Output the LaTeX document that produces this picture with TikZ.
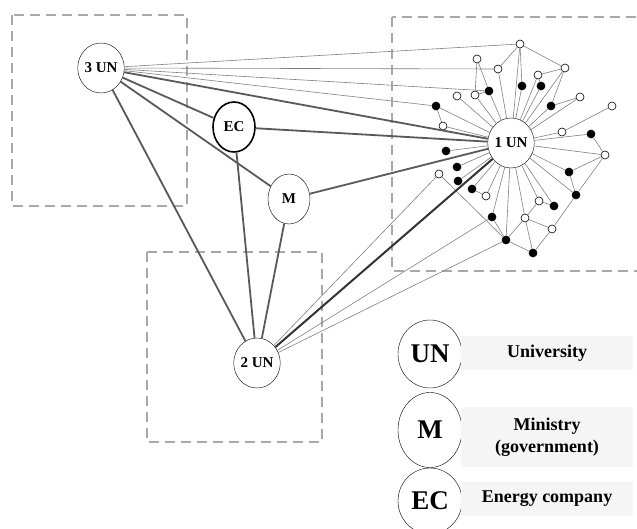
\documentclass[tikz,border=0pt]{standalone}
\usepackage[svgnames]{xcolor}
\usepackage{fontspec}
\setmainfont{Liberation Serif}
\usetikzlibrary{shapes.geometric}

\begin{document}
\begin{tikzpicture}[x=1pt, y=-1pt,
    actor/.style={draw, ellipse, fill=white, minimum width=42pt, minimum height=50pt, inner sep=0pt, font=\bfseries\fontsize{15}{15}\selectfont},
    hub/.style={draw, circle, fill=white, minimum size=8pt, inner sep=0pt, line width=0.6pt},
    dot/.style={hub, fill=black},
    tie/.style={draw=Gray, line width=0.6pt},
    link/.style={draw=black!65, line width=1.8pt},
    zone/.style={draw=DarkGray, line width=1.8pt, dash pattern=on 10pt off 6pt},
    sign/.style={draw, ellipse, minimum width=64pt, inner sep=0pt, font=\bfseries\fontsize{27}{27}\selectfont},
    key/.style={fill=WhiteSmoke, minimum width=172pt, align=center, font=\bfseries\fontsize{18}{22.5}\selectfont}]
    \clip (0,0) rectangle (637,529);
    \draw[zone] (12,15) rectangle (187,206);
    \draw[zone] (147,252) rectangle (322,442);
    \draw[zone] (392,17) rectangle (660,271);

    \node[actor] (U3) at (101,68) {3 UN};
    \node[actor, line width=1.6pt] (EC) at (234,127) {EC};
    \node[actor] (M) at (289,199) {M};
    \node[actor] (U2) at (257,363) {2 UN};
    \node[actor] (U1) at (511,143) {1 UN};

    \foreach \n/\p in {w1/{520,44}, w2/{477,59}, w3/{498,69}, w4/{538,75}, w5/{565,68}, w6/{457,96}, w7/{475,95}, w8/{580,97}, w9/{612,106}, w10/{443,126}, w11/{562,132}, w12/{605,155}, w13/{439,174}, w14/{486,196}, w15/{539,201}, w16/{525,218}, w17/{552,229}}
        \node[hub] (\n) at (\p) {};
    \foreach \n/\p in {b1/{489,91}, b2/{522,86}, b3/{541,86}, b4/{436,106}, b5/{551,106}, b6/{591,134}, b7/{446,151}, b8/{457,167}, b9/{458,181}, b10/{569,172}, b11/{472,189}, b12/{576,195}, b13/{554,206}, b14/{492,217}, b15/{506,240}, b16/{533,253}}
        \node[dot] (\n) at (\p) {};

    \foreach \n in {w1, w3, w4, w5, w6, w7, w8, w10, w11, w12, w14, w15, w16, b1, b2, b3, b4, b5, b6, b7, b8, b9, b10, b11, b12, b13, b14, b15}
        \draw[tie] (\n) -- (U1);
    \foreach \a/\b in {w1/w3, w1/w5, w1/b2, w2/w7, w2/b1, w7/b1, w4/w5, w4/b3, w5/b5, w8/b5, w9/w11, b4/w10, w12/b6, w12/b10, w12/b12, b10/b12, b11/w14, w13/b15, b14/b15, w15/b13, w15/w16, w16/b15, w16/w17, w16/b16, w17/b16, w17/b12, b15/b16}
        \draw[tie] (\a) -- (\b);
    \foreach \n in {w1, w3, b1, b4}
        \draw[tie] (U3) -- (\n);
    \foreach \n in {w13, b14, b15}
        \draw[tie] (U2) -- (\n);

    \foreach \a/\b in {U3/U1, U3/EC, U3/M, U3/U2, EC/U1, EC/U2, M/U1, M/U2}
        \draw[link] (\a) -- (\b);
    \draw[link, draw=black!80, line width=2pt] (U2) -- (U1);

    \node[sign, minimum height=68pt] (kUN) at (430,354) {UN};
    \node[sign, minimum height=75pt] (kM) at (430,430) {M};
    \node[sign, minimum height=66pt] (kEC) at (430,501) {EC};
    \node[key, minimum height=34pt] (tUN) at (547,353) {University};
    \node[key, minimum height=60pt] (tM) at (547,437) {Ministry\\(government)};
    \node[key, minimum height=34pt] (tEC) at (547,499) {Energy company};
\end{tikzpicture}
\end{document}
